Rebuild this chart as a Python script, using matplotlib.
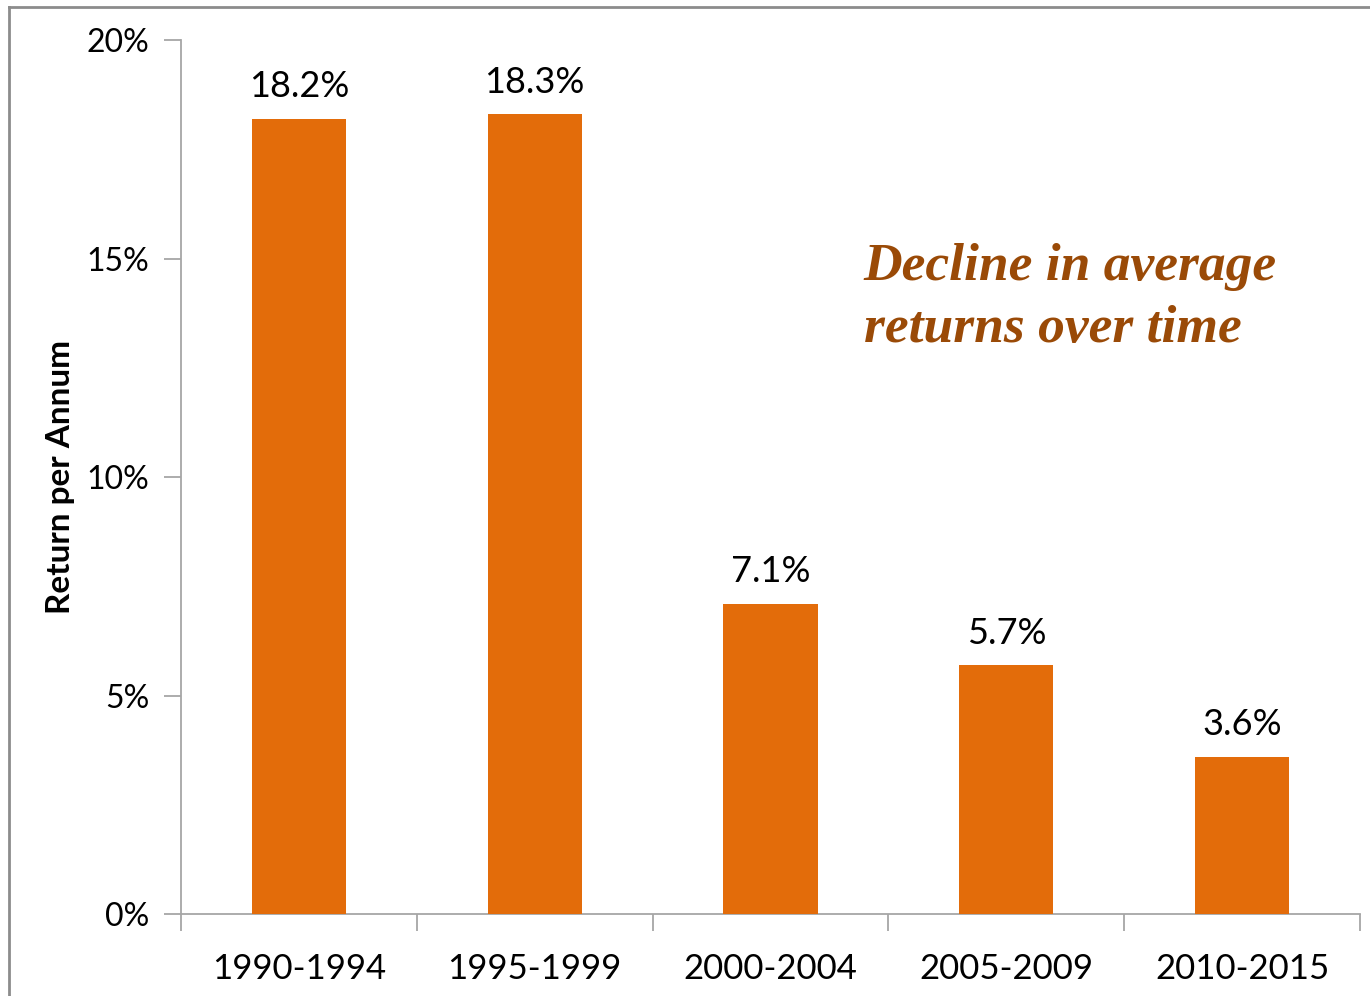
import matplotlib
matplotlib.use("Agg")
import matplotlib.pyplot as plt
from matplotlib.lines import Line2D
from matplotlib.ticker import FuncFormatter, MultipleLocator

periods = ["1990-1994", "1995-1999", "2000-2004", "2005-2009", "2010-2015"]
returns = [18.2, 18.3, 7.1, 5.7, 3.6]

ORANGE = "#E36C0A"
BROWN = "#9A4A07"
GRID = "#A6A6A6"

plt.rcParams.update({"font.family": ["Lato", "DejaVu Sans"]})

fig = plt.figure(figsize=(13.7, 9.96), dpi=100)
fig.patch.set_facecolor("white")
ax = fig.add_axes([0.1321, 0.0823, 0.8606, 0.8775])

x = range(len(periods))
bars = ax.bar(x, returns, width=0.4, color=ORANGE, zorder=3)
for bar, v in zip(bars, returns):
    ax.text(bar.get_x() + bar.get_width() / 2, v + 0.35, f"{v:.1f}%",
            ha="center", va="bottom", fontsize=26, color="black")

ax.set_xlim(-0.5, len(periods) - 0.5)
ax.set_ylim(0, 20)
ax.yaxis.set_major_locator(MultipleLocator(5))
ax.yaxis.set_major_formatter(FuncFormatter(lambda v, _: f"{v:.0f}%"))
# category boundaries get the tick marks, labels sit between them
ax.set_xticks([i - 0.5 for i in range(len(periods) + 1)])
ax.set_xticklabels([])
ax.set_xticks(list(x), minor=True)
ax.set_xticklabels(periods, minor=True)
ax.tick_params(axis="x", which="major", length=12, color=GRID, width=1.3)
ax.tick_params(axis="x", which="minor", length=0, labelsize=25, pad=28)
ax.tick_params(axis="y", length=12, color=GRID, width=1.3, labelsize=23, pad=11)

for side in ("top", "right"):
    ax.spines[side].set_visible(False)
for side in ("left", "bottom"):
    ax.spines[side].set_color(GRID)
    ax.spines[side].set_linewidth(1.3)

ax.set_ylabel("Return per Annum", fontsize=24, fontweight="bold")
ax.yaxis.set_label_coords(-0.0895, 0.5)

ax.text(0.579, 0.705, "Decline in average\nreturns over time", transform=ax.transAxes,
        ha="left", va="center", fontsize=38.5, color=BROWN, fontweight="bold",
        fontstyle="italic", family="Liberation Serif", linespacing=1.38)

# outer frame (top and left edges visible)
fig.add_artist(Line2D([9 / 1370, 1.0], [1 - 7 / 996] * 2, color="#8C8C8C", lw=2))
fig.add_artist(Line2D([9 / 1370] * 2, [0, 1 - 7 / 996], color="#8C8C8C", lw=2))

fig.savefig("out.png", dpi=100, facecolor="white")
